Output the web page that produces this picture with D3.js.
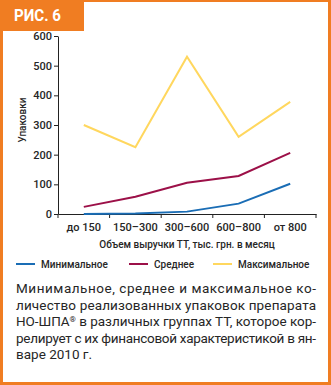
<!DOCTYPE html>
<html><head><meta charset="utf-8">
<script src="https://cdn.jsdelivr.net/npm/d3@7"></script>
<style>
html,body{margin:0;padding:0;background:#fff;}
svg{display:block;}
</style></head>
<body>
<script>
const categories = ["до 150","150–300","300–600","600–800","от 800"];
const minValues = [0, 2, 8, 35, 102];
const meanValues = [24, 58, 105, 128, 206];
const maxValues = [300, 225, 530, 260, 378];
const yTicks = [0, 100, 200, 300, 400, 500, 600];
const seriesNames = ["Минимальное","Среднее","Максимальное"];
const seriesColors = ["#1a6db5","#9c1048","#ffd75e"];
const captionLines = [
  ["Минимальное, среднее и максимальное ко-"],
  ["личество реализованных упаковок препарата"],
  ["НО-ШПА", "®", " в различных группах ТТ, которое кор-"],
  ["релирует с их финансовой характеристикой в ян-"],
  ["варе 2010 г."]
];

const W = 331, H = 385;
const orange = "#f07d22";
const textCol = "#262626";
const font = "Roboto, 'Noto Sans', sans-serif";

const svg = d3.select("body").append("svg").attr("width", W).attr("height", H);

// frame
svg.append("rect").attr("x",0).attr("y",0).attr("width",W).attr("height",H).attr("fill",orange);
svg.append("rect").attr("x",3).attr("y",2).attr("width",W-6).attr("height",H-5).attr("fill","#fff");
svg.append("rect").attr("x",0).attr("y",0).attr("width",84).attr("height",31).attr("fill",orange);
svg.append("text").attr("x",14).attr("y",21).attr("fill","#fff")
  .attr("font-family",font).attr("font-weight","bold").attr("font-size",16)
  .attr("textLength",47).attr("lengthAdjust","spacingAndGlyphs").text("РИС. 6");

const x0 = 58, x1 = 316, yTop = 36, yBot = 214;
const x = d3.scaleBand().domain(categories).range([x0, x1]);
const y = d3.scaleLinear().domain([0, 600]).range([yBot, yTop]);

// y axis
const yAxis = svg.append("g").attr("transform",`translate(${x0},0)`)
  .call(d3.axisLeft(y).tickValues(yTicks).tickSize(4).tickSizeOuter(0));
yAxis.select(".domain").attr("stroke","#222").attr("stroke-width",1);
yAxis.selectAll(".tick line").attr("stroke","#222");
yAxis.selectAll(".tick text").attr("font-family",font).attr("font-size",11)
  .attr("font-weight",500).attr("fill",textCol).attr("x",-6);

// x axis
const xAxis = svg.append("g").attr("transform",`translate(0,${yBot})`)
  .call(d3.axisBottom(x).tickSize(0).tickSizeOuter(0));
xAxis.select(".domain").attr("stroke","#222").attr("stroke-width",1);
xAxis.selectAll(".tick text").attr("font-family",font).attr("font-size",11)
  .attr("font-weight",500).attr("fill",textCol).attr("dy","1.25em");
// boundary ticks
const bounds = categories.map(c => x(c)).concat([x1]);
svg.append("g").selectAll("line").data(bounds).join("line")
  .attr("x1",d=>d).attr("x2",d=>d).attr("y1",yBot).attr("y2",yBot+4)
  .attr("stroke","#222");

// axis titles
svg.append("text").attr("transform","translate(26,120) rotate(-90)")
  .attr("text-anchor","middle").attr("font-family",font).attr("font-size",10)
  .attr("font-weight",500).attr("fill",textCol).text("Упаковки");
svg.append("text").attr("x",187).attr("y",248).attr("text-anchor","middle")
  .attr("font-family",font).attr("font-size",10).attr("font-weight",500).attr("fill",textCol)
  .text("Объем выручки ТТ, тыс. грн. в месяц");

// lines
const cx = c => x(c) + x.bandwidth()/2;
const line = d3.line().x((d,i)=>cx(categories[i])).y(d=>y(d));
const series = [minValues, meanValues, maxValues];
[2,1,0].forEach(i=>{
  svg.append("path").datum(series[i]).attr("d",line)
    .attr("fill","none").attr("stroke",seriesColors[i]).attr("stroke-width",2)
    .attr("stroke-linejoin","miter");
});

// legend
const legX = [16, 129, 213];
seriesNames.forEach((n,i)=>{
  svg.append("line").attr("x1",legX[i]).attr("x2",legX[i]+19).attr("y1",264).attr("y2",264)
    .attr("stroke",seriesColors[i]).attr("stroke-width",2);
  svg.append("text").attr("x",legX[i]+25).attr("y",268)
    .attr("font-family",font).attr("font-size",10).attr("font-weight",500)
    .attr("fill",textCol).text(n);
});

// caption
captionLines.forEach((parts,i)=>{
  const tx = svg.append("text").attr("x",16).attr("y",293 + i*16.6)
    .attr("font-family",font).attr("font-size",13.5).attr("fill",textCol);
  parts.forEach(p=>{
    const ts = tx.append("tspan").text(p);
    if (p === "®") ts.attr("font-size",8).attr("baseline-shift","super");
  });
  if (i < captionLines.length-1) tx.attr("textLength",300).attr("lengthAdjust","spacing");
});
</script>
</body></html>
